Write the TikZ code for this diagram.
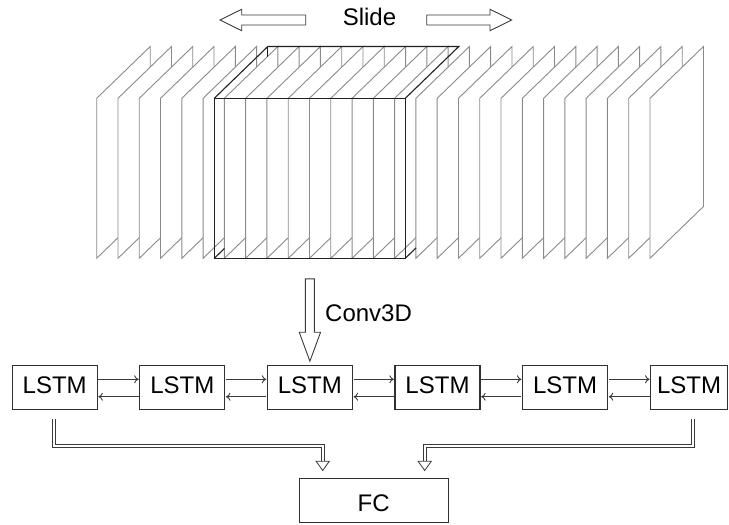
\documentclass[tikz,border=0pt]{standalone}
\usepackage{fontspec}
\setmainfont{Liberation Sans}
\usetikzlibrary{arrows.meta}
\definecolor{framegray}{HTML}{8A8A8A}
\definecolor{cubec}{HTML}{202020}
\definecolor{boxc}{HTML}{303030}
\definecolor{arrc}{HTML}{3A3A3A}
\begin{document}
\begin{tikzpicture}[x=1pt,y=-1pt,
  frm/.style={draw=framegray, line width=0.9pt, fill=white, line join=miter},
  cubeline/.style={draw=cubec, line width=1.1pt},
  lstm/.style={draw=boxc, line width=1.1pt, minimum width=85pt, minimum height=44.3pt, inner sep=0pt, font=\fontsize{24}{28}\selectfont, text depth=5pt},
  fcbox/.style={draw=boxc, line width=1.1pt, minimum width=149pt, minimum height=44.4pt, inner sep=0pt, font=\fontsize{24}{28}\selectfont, text height=21pt, text depth=0pt},
  lbl/.style={inner sep=0pt, font=\fontsize{24}{28}\selectfont},
  link/.style={draw=arrc, line width=0.9pt, shorten >=0.6pt, shorten <=0.6pt, -{To[length=4.5pt,width=8pt]}},
  blockarrow/.style={draw=arrc, line width=0.9pt, fill=white},
  dbl/.style={draw=arrc, double=white, double distance=2.2pt, line width=0.8pt},
]
\useasboundingbox (0,0) rectangle (729,525);

% stack of frames
\foreach \i in {0,...,26}{
  \pgfmathsetmacro{\fx}{96.7+21.28*\i}
  \draw[frm] (\fx,258.3) -- (\fx,98.3) -- (\fx+53.5,46.5) -- (\fx+53.5,206.5) -- cycle;
}

% sliding cube (visible edges)
\draw[cubeline] (214.3,98.3) rectangle (405.3,258.3);
\draw[cubeline] (214.3,98.3) -- (267.8,46.5) -- (458.8,46.5) -- (405.3,98.3);
\draw[cubeline] (267.8,46.5) -- (267.8,56.5);
\draw[cubeline] (214.3,258.3) -- (224.4,248.5);
\draw[cubeline] (405.3,258.3) -- (416.0,248.0);

% Slide label and arrows
\node[lbl, anchor=base] (slide) at (369.5,25.5) {Slide};
\draw[blockarrow] (305.7,15) -- (241.7,15) -- (241.7,9.3) -- (220,20) -- (241.7,30.7) -- (241.7,25) -- (305.7,25) -- cycle;
\draw[blockarrow] (426.7,15) -- (490,15) -- (490,9.3) -- (511.7,20) -- (490,30.7) -- (490,25) -- (426.7,25) -- cycle;

% LSTM chain
\node[lstm] (l1) at (54.7,387.2) {LSTM};
\node[lstm] (l2) at (182.3,387.2) {LSTM};
\node[lstm] (l3) at (309.9,387.2) {LSTM};
\node[lstm] (l4) at (437.5,387.2) {LSTM};
\node[lstm] (l5) at (565.1,387.2) {LSTM};
\node[lstm, minimum width=76.8pt] (l6) at (689.1,387.2) {LSTM};

\foreach \a/\b in {l1/l2,l2/l3,l3/l4,l4/l5,l5/l6}{
  \draw[link] ([yshift=7.9pt]\a.east) -- ([yshift=7.9pt]\b.west);
  \draw[link] ([yshift=-9.5pt]\b.west) -- ([yshift=-9.5pt]\a.east);
}

% Conv3D arrow
\node[lbl, anchor=base west] (conv) at (325,321.7) {Conv3D};
\coordinate (ctip) at ([yshift=3.3pt]l3.north);
\draw[blockarrow] (ctip) -- ++(10.7,-29) -- ++(-6.2,0) -- ++(0,-53.4) -- ++(-9,0) -- ++(0,53.4) -- ++(-6.2,0) -- cycle;

% FC
\node[fcbox] (fc) at (373.7,500.5) {FC};
\coordinate (h1) at ([xshift=-51pt,yshift=16.6pt]fc.north);
\coordinate (h2) at ([xshift=51pt,yshift=16.6pt]fc.north);
\coordinate (s1) at ([xshift=-0.5pt,yshift=-9pt]l1.south);
\coordinate (s2) at ([xshift=3.9pt,yshift=-9pt]l6.south);
\coordinate (mid) at (0,445.8);
\draw[dbl] (s1) -- (s1 |- mid) -- (h1 |- mid) -- (h1);
\draw[dbl] (s2) -- (s2 |- mid) -- (h2 |- mid) -- (h2);
\draw[blockarrow, line width=0.8pt] ([xshift=-6.7pt]h1) -- ([xshift=6.7pt]h1) -- ([yshift=-9.3pt]h1) -- cycle;
\draw[blockarrow, line width=0.8pt] ([xshift=-6.7pt]h2) -- ([xshift=6.7pt]h2) -- ([yshift=-9.3pt]h2) -- cycle;
\end{tikzpicture}
\end{document}
